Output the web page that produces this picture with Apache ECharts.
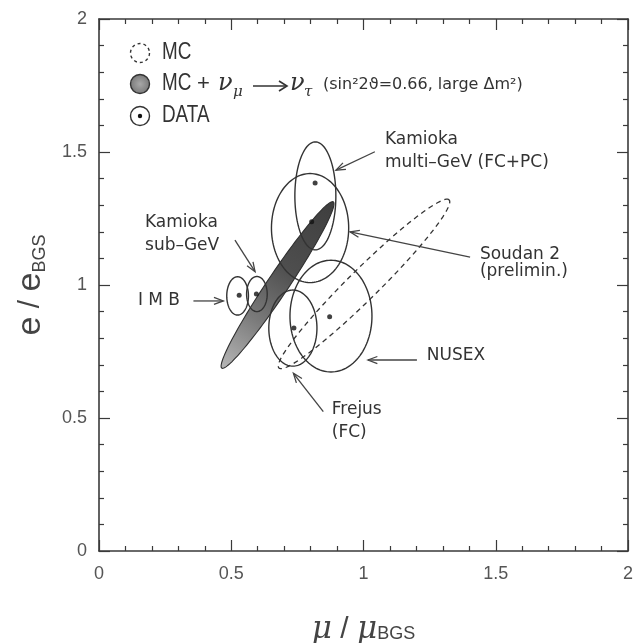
<!DOCTYPE html>
<html><head><meta charset="utf-8">
<script src="https://cdn.jsdelivr.net/npm/echarts@6/dist/echarts.min.js"></script>
<style>html,body{margin:0;padding:0;background:#fff}#c{width:635px;height:643px}</style>
</head><body><div id="c"></div>
<script>
// ---- data ----
const xTickValues = [0, 0.5, 1, 1.5, 2];
const yTickValues = [0, 0.5, 1, 1.5, 2];
// experiments: error contours (axis aligned) and measured points
const expNames = ['Kamioka multi-GeV', 'Soudan 2', 'NUSEX', 'Frejus', 'IMB', 'Kamioka sub-GeV'];
const ellCx = [0.818, 0.798, 0.877, 0.733, 0.524, 0.597];
const ellCy = [1.335, 1.214, 0.883, 0.838, 0.959, 0.966];
const ellRx = [0.0775, 0.146, 0.155, 0.091, 0.041, 0.039];
const ellRy = [0.203, 0.205, 0.210, 0.143, 0.072, 0.066];
const dataX = [0.817, 0.804, 0.872, 0.737, 0.530, 0.595];
const dataY = [1.383, 1.238, 0.881, 0.838, 0.961, 0.966];
// MC expectation contour: [cx, cy, semi-major, semi-minor, tilt deg]
const mcEllipse = [1.002, 1.004, 0.451, 0.057, 44.5];
// MC + nu_mu -> nu_tau contour
const mcOscEllipse = [0.675, 1.000, 0.377, 0.040, 56];
// annotation texts and arrows
const noteText = ['Kamioka', 'multi–GeV (FC+PC)', 'Soudan 2', '(prelimin.)', 'NUSEX', 'Frejus', '(FC)', 'Kamioka', 'sub–GeV', 'I M B'];
const noteX = [1.081, 1.081, 1.440, 1.440, 1.239, 0.880, 0.880, 0.174, 0.174, 0.147];
const noteY = [1.545, 1.460, 1.113, 1.049, 0.733, 0.530, 0.447, 1.233, 1.147, 0.940];
const arrowX1 = [1.043, 1.403, 1.202, 0.848, 0.514, 0.357];
const arrowY1 = [1.501, 1.105, 0.718, 0.524, 1.169, 0.940];
const arrowX2 = [0.896, 0.949, 1.017, 0.735, 0.590, 0.470];
const arrowY2 = [1.432, 1.200, 0.718, 0.668, 1.050, 0.940];

// ---- drawing ----
const INK = '#333';
const chart = echarts.init(document.getElementById('c'), null, {renderer: 'canvas'});

function ellipsePoints(api, cx, cy, a, b, deg) {
  const th = deg * Math.PI / 180, pts = [];
  const N = 120;
  for (let i = 0; i < N; i++) {
    const t = i / N * 2 * Math.PI;
    const dx = a * Math.cos(t), dy = b * Math.sin(t);
    pts.push(api.coord([cx + dx * Math.cos(th) - dy * Math.sin(th), cy + dx * Math.sin(th) + dy * Math.cos(th)]));
  }
  return pts;
}

const axisBase = {
  type: 'value', min: 0, max: 2, interval: 0.5,
  axisLine: {show: true, onZero: false, lineStyle: {color: '#3a3a3a', width: 1.6}},
  axisTick: {show: true, inside: true, length: 11, lineStyle: {color: '#3a3a3a', width: 1.2}},
  minorTick: {show: true, splitNumber: 5, length: 5, lineStyle: {color: '#3a3a3a', width: 1.2}},
  splitLine: {show: false}, minorSplitLine: {show: false}
};
const labelBase = {color: '#555', fontSize: 18, fontFamily: '"Liberation Sans", Arial, sans-serif'};

const option = {
  animation: false,
  backgroundColor: '#fff',
  grid: {left: 99, top: 19, right: 7, bottom: 92, containLabel: false, outerBoundsMode: 'none'},
  xAxis: [
    Object.assign({}, axisBase, {
      position: 'bottom',
      axisLabel: Object.assign({margin: 14, formatter: v => xTickValues.includes(v) ? String(v) : ''}, labelBase),
      name: '{m|μ}{sl| / }{m|μ}{b|BGS}', nameLocation: 'middle', nameGap: 58,
      nameTextStyle: {rich: {
        m: {fontFamily: '"DejaVu Serif", serif', fontStyle: 'italic', fontSize: 31, color: '#444', lineHeight: 36, verticalAlign: 'bottom'},
        sl: {fontFamily: '"Liberation Sans", sans-serif', fontSize: 30, color: '#444', lineHeight: 36, verticalAlign: 'bottom'},
        b: {fontFamily: '"Liberation Sans Narrow", "Liberation Sans", sans-serif', fontSize: 18, color: '#444', lineHeight: 36, verticalAlign: 'bottom', padding: [0, 0, 2, 0]}
      }}
    }),
    Object.assign({}, axisBase, {position: 'top', axisLabel: {show: false}})
  ],
  yAxis: [
    Object.assign({}, axisBase, {
      position: 'left',
      axisLabel: Object.assign({margin: 12, formatter: v => yTickValues.includes(v) ? String(v) : ''}, labelBase),
      name: '{e|e}{sl| / }{e|e}{b|BGS}', nameLocation: 'middle', nameRotate: 90, nameGap: 46,
      nameTextStyle: {rich: {
        e: {fontFamily: '"Liberation Sans", sans-serif', fontSize: 34, color: '#444', lineHeight: 40, verticalAlign: 'middle'},
        sl: {fontFamily: '"Liberation Sans", sans-serif', fontSize: 30, color: '#444', lineHeight: 40, verticalAlign: 'middle'},
        b: {fontFamily: '"Liberation Sans Narrow", "Liberation Sans", sans-serif', fontSize: 18, color: '#444', lineHeight: 40, verticalAlign: 'bottom', padding: [0, 0, 2, 0]}
      }}
    }),
    Object.assign({}, axisBase, {position: 'right', axisLabel: {show: false}})
  ],
  series: [
    { // MC + oscillation (shaded)
      type: 'custom', z: 2,
      data: [mcOscEllipse],
      encode: {x: 0, y: 1},
      renderItem: (params, api) => ({
        type: 'polygon',
        shape: {points: ellipsePoints(api, api.value(0), api.value(1), api.value(2), api.value(3), api.value(4))},
        style: {
          fill: new echarts.graphic.LinearGradient(0, 1, 1, 0, [
            {offset: 0, color: '#b8b8b8'}, {offset: 0.3, color: '#7a7a7a'},
            {offset: 0.6, color: '#4e4e4e'}, {offset: 1, color: '#3e3e3e'}]),
          stroke: '#2e2e2e', lineWidth: 1.1
        }
      })
    },
    { // MC expectation (dashed)
      type: 'custom', z: 3,
      data: [mcEllipse],
      encode: {x: 0, y: 1},
      renderItem: (params, api) => ({
        type: 'polygon',
        shape: {points: ellipsePoints(api, api.value(0), api.value(1), api.value(2), api.value(3), api.value(4))},
        style: {fill: null, stroke: INK, lineWidth: 1.3, lineDash: [5, 4]}
      })
    },
    { // experiment contours
      type: 'custom', z: 4,
      data: expNames.map((n, i) => [ellCx[i], ellCy[i], ellRx[i], ellRy[i]]),
      encode: {x: 0, y: 1},
      renderItem: (params, api) => ({
        type: 'polygon',
        shape: {points: ellipsePoints(api, api.value(0), api.value(1), api.value(2), api.value(3), 0)},
        style: {fill: null, stroke: INK, lineWidth: 1.4}
      })
    },
    { // data points
      type: 'scatter', z: 5,
      data: dataX.map((x, i) => [x, dataY[i]]),
      symbol: 'circle', symbolSize: 5,
      itemStyle: {color: '#111'}
    },
    { // arrows
      type: 'custom', z: 6,
      data: arrowX1.map((x, i) => [x, arrowY1[i], arrowX2[i], arrowY2[i]]),
      encode: {x: [0, 2], y: [1, 3]},
      renderItem: (params, api) => {
        const p1 = api.coord([api.value(0), api.value(1)]);
        const p2 = api.coord([api.value(2), api.value(3)]);
        const ang = Math.atan2(p2[1] - p1[1], p2[0] - p1[0]);
        const L = 10, w = 0.36;
        const h1 = [p2[0] - L * Math.cos(ang - w), p2[1] - L * Math.sin(ang - w)];
        const h2 = [p2[0] - L * Math.cos(ang + w), p2[1] - L * Math.sin(ang + w)];
        return {type: 'group', children: [
          {type: 'line', shape: {x1: p1[0], y1: p1[1], x2: p2[0], y2: p2[1]}, style: {stroke: '#444', lineWidth: 1.3}},
          {type: 'polyline', shape: {points: [h1, p2, h2]}, style: {stroke: '#444', lineWidth: 1.3, fill: null}}
        ]};
      }
    },
    { // annotation labels
      type: 'custom', z: 7,
      data: noteX.map((x, i) => [x, noteY[i]]),
      encode: {x: 0, y: 1},
      renderItem: (params, api) => {
        const p = api.coord([api.value(0), api.value(1)]);
        return {type: 'text', x: p[0], y: p[1], style: {
          text: noteText[params.dataIndex], fill: '#333',
          font: '17px "DejaVu Sans", sans-serif', align: 'left', verticalAlign: 'middle'}};
      }
    }
  ],
  graphic: [
    // legend row 1: MC
    {type: 'circle', shape: {cx: 140, cy: 53, r: 9.5}, style: {fill: null, stroke: INK, lineWidth: 1.4, lineDash: [3, 3]}},
    {type: 'text', x: 162, y: 53, scaleX: 0.82, style: {text: 'MC', font: '23px "Liberation Sans", sans-serif', fill: '#333', verticalAlign: 'middle'}},
    // row 2: MC + nu_mu -> nu_tau
    {type: 'circle', shape: {cx: 140, cy: 84, r: 9.5}, style: {
      fill: new echarts.graphic.RadialGradient(0.5, 0.5, 0.6, [{offset: 0, color: '#a8a8a8'}, {offset: 1, color: '#6e6e6e'}]),
      stroke: INK, lineWidth: 1.4}},
    {type: 'text', x: 162, y: 84, scaleX: 0.82, style: {text: 'MC', font: '23px "Liberation Sans", sans-serif', fill: '#333', verticalAlign: 'middle'}},
    {type: 'text', x: 197, y: 84, style: {text: '+', font: '22px "Liberation Sans", sans-serif', fill: '#333', verticalAlign: 'middle'}},
    {type: 'text', x: 218, y: 84, style: {text: 'ν', font: 'italic 24px "DejaVu Serif", serif', fill: '#333', verticalAlign: 'middle'}},
    {type: 'text', x: 233, y: 92, style: {text: 'μ', font: 'italic 15px "DejaVu Serif", serif', fill: '#333', verticalAlign: 'middle'}},
    {type: 'line', shape: {x1: 253, y1: 86, x2: 287, y2: 86}, style: {stroke: '#333', lineWidth: 1.6}},
    {type: 'polyline', shape: {points: [[279, 81], [287, 86], [279, 91]]}, style: {stroke: '#333', lineWidth: 1.6, fill: null}},
    {type: 'text', x: 290, y: 84, style: {text: 'ν', font: 'italic 24px "DejaVu Serif", serif', fill: '#333', verticalAlign: 'middle'}},
    {type: 'text', x: 304, y: 92, style: {text: 'τ', font: 'italic 15px "DejaVu Serif", serif', fill: '#333', verticalAlign: 'middle'}},
    {type: 'text', x: 323, y: 85, style: {text: '(sin²2ϑ=0.66, large Δm²)', font: '16px "DejaVu Sans", sans-serif', fill: '#333', verticalAlign: 'middle'}},
    // row 3: DATA
    {type: 'circle', shape: {cx: 140, cy: 116, r: 9.5}, style: {fill: null, stroke: INK, lineWidth: 1.4}},
    {type: 'circle', shape: {cx: 140, cy: 116, r: 2.2}, style: {fill: '#111'}},
    {type: 'text', x: 162, y: 116, scaleX: 0.82, style: {text: 'DATA', font: '23px "Liberation Sans", sans-serif', fill: '#333', verticalAlign: 'middle'}}
  ]
};
chart.setOption(option);
</script>
</body></html>
